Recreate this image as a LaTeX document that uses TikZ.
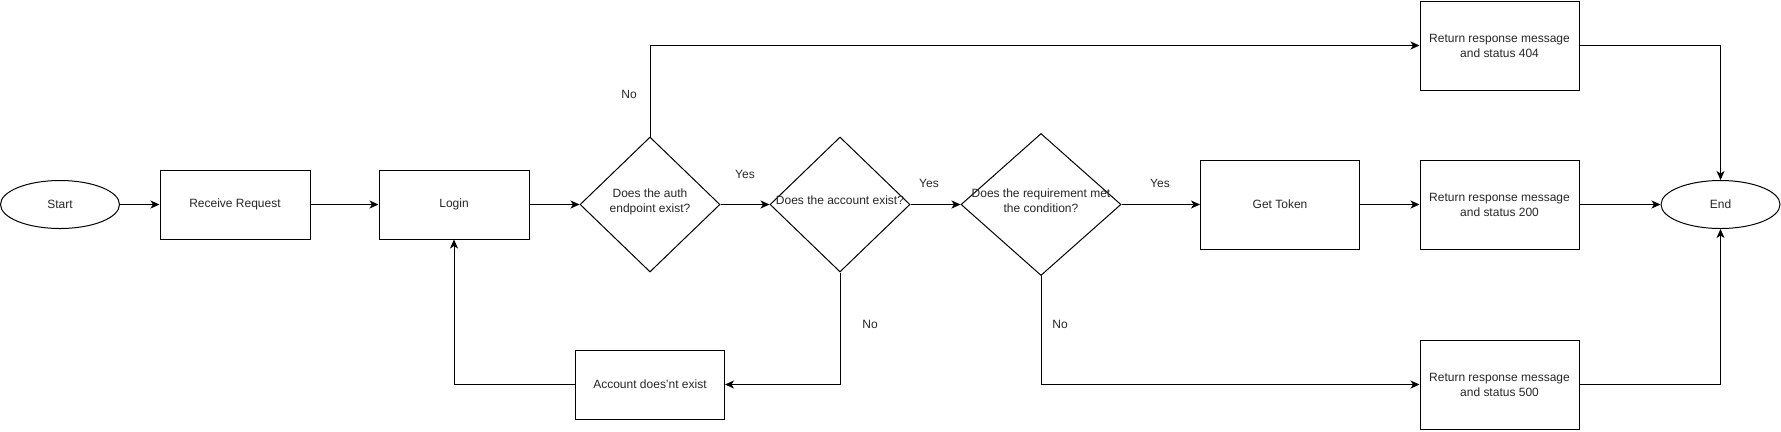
\documentclass[tikz,border=0pt]{standalone}
\usepackage{fontspec}
\setmainfont{Liberation Sans}
\usetikzlibrary{shapes.geometric,arrows.meta}
\newcommand{\zbox}[1]{\makebox[0pt]{\raisebox{0pt}[0pt][0pt]{\begin{tabular}{@{}c@{}}#1\end{tabular}}}}
\begin{document}
\begin{tikzpicture}[x=1bp,y=1bp,
  every node/.style={font=\fontsize{12.04}{15.05}\selectfont},
  base/.style={draw=black,line width=1bp,inner sep=0pt,text=black!85},
  procbox/.style={base,rectangle,align=center},
  termin/.style={base,ellipse,minimum width=119bp,minimum height=48bp},
  decision/.style={base,diamond},
  conn/.style={line width=1bp,-{Stealth[length=9bp,width=8bp,inset=2.5bp]}},
  lbl/.style={inner sep=0pt,text=black!85}
]
\useasboundingbox (0,0) rectangle (1781,-431);

\node[termin] (start) at (60,-204.5) {Start};
\node[procbox,minimum width=150bp,minimum height=69bp] (recv) at (235,-204.5) {Receive Request};
\node[procbox,minimum width=150bp,minimum height=69bp] (login) at (454,-204.5) {Login};
\node[decision,minimum width=140bp,minimum height=135bp] (d1) at (650,-204.5) {\zbox{Does the auth\\endpoint exist?}};
\node[decision,minimum width=140bp,minimum height=135bp] (d2) at (840,-204.5) {\zbox{Does the account exist?}};
\node[decision,minimum width=160bp,minimum height=142bp] (d3) at (1041,-204.5) {\zbox{Does the requirement met\\the condition?}};
\node[procbox,minimum width=159bp,minimum height=89bp] (token) at (1280,-204.5) {Get Token};
\node[procbox,minimum width=159bp,minimum height=89bp] (r200) at (1499.5,-204.5) {Return response message\\and status 200};
\node[procbox,minimum width=159bp,minimum height=89bp] (r404) at (1499.5,-45.5) {Return response message\\and status 404};
\node[procbox,minimum width=159bp,minimum height=89bp] (r500) at (1499.5,-384.5) {Return response message\\and status 500};
\node[termin] (end) at (1720.5,-204.5) {End};
\node[procbox,minimum width=149bp,minimum height=69bp] (acc) at (650,-384.5) {Account does'nt exist};

\draw[conn] (start) -- (recv);
\draw[conn] (recv) -- (login);
\draw[conn] (login) -- (d1);
\draw[conn] (d1) -- (d2);
\draw[conn] (d2) -- (d3);
\draw[conn] (d3) -- (token);
\draw[conn] (token) -- (r200);
\draw[conn] (r200) -- (end);
\draw[conn] (d1.north) |- (r404.west);
\draw[conn] (r404.east) -| (end.north);
\draw[conn] (d2.south) |- (acc.east);
\draw[conn] (acc.west) -| (login.south);
\draw[conn] (d3.south) |- (r500.west);
\draw[conn] (r500.east) -| (end.south);

\node[lbl] (lno1) at (629,-94) {No};
\node[lbl] (lyes1) at (745,-174) {Yes};
\node[lbl] (lyes2) at (929,-183) {Yes};
\node[lbl] (lno2) at (870,-324) {No};
\node[lbl] (lyes3) at (1160,-183) {Yes};
\node[lbl] (lno3) at (1060,-324) {No};
\end{tikzpicture}
\end{document}
